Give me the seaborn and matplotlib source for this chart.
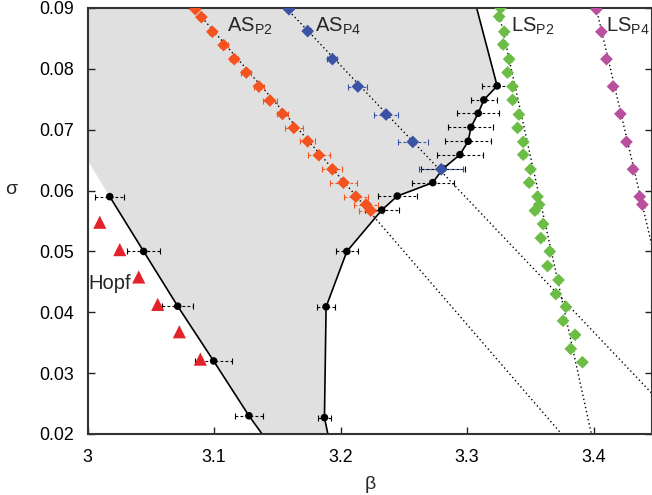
import matplotlib
matplotlib.use("Agg")
import matplotlib.pyplot as plt
import seaborn as sns
import numpy as np

# ---------------- data ----------------
# left phase boundary (black points)
left_beta = [3.0176, 3.0444, 3.0713, 3.0997, 3.1276]
left_sigma = [0.0590, 0.0500, 0.0410, 0.0320, 0.0230]
left_err = [0.0115, 0.0131, 0.0123, 0.0145, 0.0108]
left_end_beta = [3.138]          # line continued to the bottom axis
left_end_sigma = [0.020]
left_fill_top_beta = [3.0]       # grey region continued to the left axis
left_fill_top_sigma = [0.065]

# right phase boundary (black points)
right_beta = [3.1873, 3.1886, 3.2050, 3.2326, 3.2449, 3.2729, 3.2810,
              3.2944, 3.3009, 3.3031, 3.3088, 3.3133, 3.3238]
right_sigma = [0.0227, 0.0409, 0.0500, 0.0568, 0.0591, 0.0613, 0.0636,
               0.0659, 0.0681, 0.0704, 0.0727, 0.0749, 0.0772]
right_err = [0.0055, 0.0071, 0.0087, 0.0134, 0.0154, 0.0166, 0.0174,
             0.0179, 0.0180, 0.0178, 0.0168, 0.0105, 0.0118]
right_bottom_beta = [3.1900]
right_bottom_sigma = [0.020]
right_top_beta = [3.3076]
right_top_sigma = [0.090]

# Hopf points
hopf_beta = [3.0097, 3.0255, 3.0405, 3.0555, 3.0726, 3.0892]
hopf_sigma = [0.0548, 0.0503, 0.0458, 0.0413, 0.0368, 0.0323]

# AS_P2
as2_beta = [3.0852, 3.0900, 3.0987, 3.1076, 3.1160, 3.1255, 3.1355, 3.1442,
            3.1541, 3.1631, 3.1740, 3.1829, 3.1936, 3.2023, 3.2121, 3.2202, 3.2239]
as2_sigma = [0.0898, 0.0885, 0.0861, 0.0839, 0.0816, 0.0794, 0.0771, 0.0748,
             0.0726, 0.0703, 0.0681, 0.0658, 0.0635, 0.0613, 0.0590, 0.0577, 0.0567]
as2_err = [0.0016, 0.0024, 0.0024, 0.0032, 0.0032, 0.0040, 0.0040, 0.0055,
           0.0047, 0.0071, 0.0059, 0.0087, 0.0079, 0.0108, 0.0095, 0.0095, 0.0095]
as2_fit_beta = [3.0840, 3.3747]
as2_fit_sigma = [0.0900, 0.0200]

# AS_P4
as4_beta = [3.1592, 3.1740, 3.1936, 3.2137, 3.2360, 3.2571, 3.2796]
as4_sigma = [0.0898, 0.0862, 0.0816, 0.0771, 0.0725, 0.0680, 0.0635]
as4_err = [0.0005, 0.0024, 0.0040, 0.0075, 0.0092, 0.0118, 0.0174]
as4_fit_beta = [3.1570, 3.4766]
as4_fit_sigma = [0.0900, 0.0200]

# LS_P2
ls2_beta = [3.3265, 3.3254, 3.3294, 3.3286, 3.3333, 3.3320, 3.3360, 3.3360,
            3.3410, 3.3399, 3.3444, 3.3444, 3.3502, 3.3491, 3.3557, 3.3570,
            3.3536, 3.3601, 3.3583, 3.3654, 3.3636, 3.3723, 3.3702, 3.3781,
            3.3759, 3.3854, 3.3820, 3.3912]
ls2_sigma = [0.0900, 0.0886, 0.0861, 0.0840, 0.0816, 0.0794, 0.0771, 0.0749,
             0.0725, 0.0703, 0.0680, 0.0659, 0.0635, 0.0613, 0.0590, 0.0577,
             0.0567, 0.0545, 0.0522, 0.0500, 0.0476, 0.0453, 0.0430, 0.0409,
             0.0386, 0.0363, 0.0340, 0.0318]
ls2_fit_beta = [3.3244, 3.3983]
ls2_fit_sigma = [0.0900, 0.0200]

# LS_P4
ls4_beta = [3.4023, 3.4062, 3.4102, 3.4154, 3.4212, 3.4260, 3.4312, 3.4365, 3.4386]
ls4_sigma = [0.0898, 0.0861, 0.0816, 0.0771, 0.0726, 0.0680, 0.0635, 0.0590, 0.0577]
ls4_fit_beta = [3.4021, 3.4810]
ls4_fit_sigma = [0.0900, 0.0200]

x_ticks = [3.0, 3.1, 3.2, 3.3, 3.4]
x_tick_labels = ["3", "3.1", "3.2", "3.3", "3.4"]
y_ticks = [0.02, 0.03, 0.04, 0.05, 0.06, 0.07, 0.08, 0.09]
y_tick_labels = ["0.02", "0.03", "0.04", "0.05", "0.06", "0.07", "0.08", "0.09"]

# ---------------- style ----------------
sns.set_style("ticks")
plt.rcParams["font.family"] = ["Liberation Sans", "DejaVu Sans"]
plt.rcParams["mathtext.fontset"] = "custom"
plt.rcParams["mathtext.rm"] = "Liberation Sans"
plt.rcParams["mathtext.it"] = "Liberation Sans:italic"

C_ORANGE = "#f4531f"
C_BLUE = "#3b53a4"
C_GREEN = "#6cbd45"
C_MAG = "#b8509e"
C_RED = "#e3232b"
C_GREY = "#e0e0e0"
DOT = (0, (1, 2))

fig = plt.figure(figsize=(6.52, 4.95), dpi=100)
ax = fig.add_axes([87.5 / 652, 61 / 495, (652 - 87.5) / 652, 426 / 495])

# grey region
poly_b = ([3.0] + right_top_beta + right_beta[::-1] + right_bottom_beta
          + left_end_beta + left_beta[::-1] + left_fill_top_beta)
poly_s = ([0.09] + right_top_sigma + right_sigma[::-1] + right_bottom_sigma
          + left_end_sigma + left_sigma[::-1] + left_fill_top_sigma)
ax.fill(poly_b, poly_s, color=C_GREY, lw=0, zorder=0)

# dotted fit lines
for fb, fs in [(as2_fit_beta, as2_fit_sigma), (as4_fit_beta, as4_fit_sigma),
               (ls2_fit_beta, ls2_fit_sigma), (ls4_fit_beta, ls4_fit_sigma)]:
    sns.lineplot(x=fb, y=fs, sort=False, estimator=None, color="black",
                 lw=1.0, linestyle=DOT, ax=ax, zorder=1)

# black boundary lines
sns.lineplot(x=left_beta + left_end_beta, y=left_sigma + left_end_sigma,
             sort=False, estimator=None, color="black", lw=1.2, ax=ax, zorder=2)
sns.lineplot(x=right_bottom_beta + right_beta + right_top_beta,
             y=right_bottom_sigma + right_sigma + right_top_sigma,
             sort=False, estimator=None, color="black", lw=1.2, ax=ax, zorder=2)


def ebar(x, y, err, color, lw=0.8):
    eb = ax.errorbar(x, y, xerr=err, fmt="none", ecolor=color, elinewidth=lw,
                     capsize=2.2, capthick=lw, zorder=2.5)
    for lc in eb[2]:
        lc.set_linestyle((0, (2.5, 2)))
    return eb


ebar(left_beta, left_sigma, left_err, "black")
ebar(right_beta, right_sigma, right_err, "black")
ebar(as2_beta, as2_sigma, as2_err, C_ORANGE)
ebar(as4_beta, as4_sigma, as4_err, C_BLUE)
ebar(ls2_beta, ls2_sigma, [0.0022] * len(ls2_beta), C_GREEN)
ebar(ls4_beta, ls4_sigma, [0.0020] * len(ls4_beta), C_MAG)

# markers
sns.scatterplot(x=left_beta, y=left_sigma, color="black", s=30, marker="o",
                edgecolor="none", ax=ax, zorder=3)
sns.scatterplot(x=right_beta, y=right_sigma, color="black", s=30, marker="o",
                edgecolor="none", ax=ax, zorder=3)
sns.scatterplot(x=hopf_beta, y=hopf_sigma, color=C_RED, s=90, marker="^",
                edgecolor="none", ax=ax, zorder=3)
for bx, sy, c in [(as2_beta, as2_sigma, C_ORANGE), (as4_beta, as4_sigma, C_BLUE),
                  (ls2_beta, ls2_sigma, C_GREEN), (ls4_beta, ls4_sigma, C_MAG)]:
    sns.scatterplot(x=bx, y=sy, color=c, s=42, marker="D", edgecolor="none",
                    ax=ax, zorder=4)

# labels
lab_fs = 14.5
ax.text(3.1103, 0.0861, r"AS$_{\mathrm{P2}}$", fontsize=lab_fs, ha="left", va="baseline")
ax.text(3.1800, 0.0861, r"AS$_{\mathrm{P4}}$", fontsize=lab_fs, ha="left", va="baseline")
ax.text(3.3349, 0.0861, r"LS$_{\mathrm{P2}}$", fontsize=lab_fs, ha="left", va="baseline")
ax.text(3.4099, 0.0861, r"LS$_{\mathrm{P4}}$", fontsize=lab_fs, ha="left", va="baseline")
ax.text(3.0010, 0.0438, "Hopf", fontsize=lab_fs, ha="left", va="baseline")

ax.set_xlim(3.0, 3.4462)
ax.set_ylim(0.02, 0.09)
ax.set_xticks(x_ticks)
ax.set_xticklabels(x_tick_labels)
ax.set_yticks(y_ticks)
ax.set_yticklabels(y_tick_labels)
ax.tick_params(axis="both", direction="in", length=5, width=1.0, colors="#222222",
               labelsize=12.8, labelcolor="black", right=True, top=False)
ax.tick_params(axis="y", pad=10)
ax.tick_params(axis="x", pad=11)
for sp in ax.spines.values():
    sp.set_visible(True)
    sp.set_color("#333333")
    sp.set_linewidth(1.5)

ax.set_xlabel("β", fontsize=14, va="center")
ax.set_ylabel("σ", fontsize=14, rotation=0, va="center")
ax.xaxis.set_label_coords(0.5, -0.118)
ax.yaxis.set_label_coords(-0.136, 0.573)

fig.savefig("out.png", dpi=100)
